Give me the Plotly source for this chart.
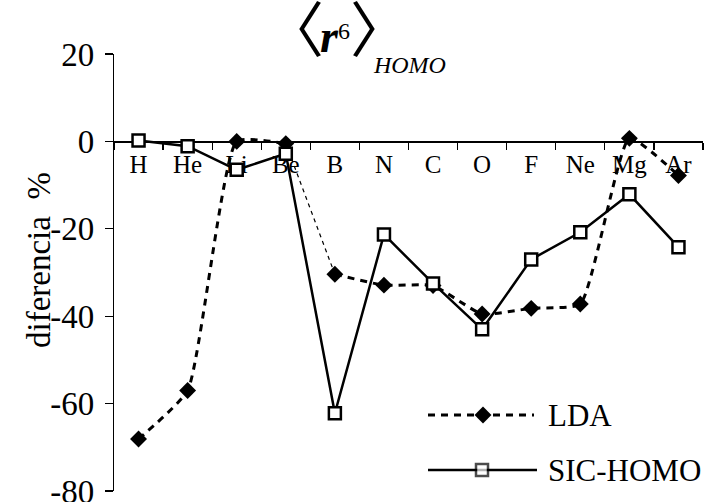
import plotly.graph_objects as go

categories = ["H", "He", "Li", "Be", "B", "N", "C", "O", "F", "Ne", "Mg", "Ar"]
lda = [-68.1, -57.0, 0.0, -0.5, -30.4, -32.9, -33.0, -39.5, -38.2, -37.2, 0.7, -7.8]
sic_homo = [0.2, -1.1, -6.5, -2.8, -62.2, -21.3, -32.5, -43.0, -27.0, -20.8, -12.1, -24.2]
y_ticks = [20, 0, -20, -40, -60, -80]
y_tick_text = ["20", "0", "-20", "-40", "-60", "-80"]

W, H = 712, 502
L, R, T, B = 114, 703, 54, 491
SERIF = "Liberation Serif, Times New Roman, serif"
CJK = "Noto Sans CJK JP"


def px(x):
    return (x - L) / (R - L)


def py(y):
    return (B - y) / (B - T)


fig = go.Figure()

LDA_THICK = dict(color="black", width=3, dash="7px,6px", shape="spline", smoothing=0.45)
# LDA line: H..Be and B..Ar thick dashed, Be..B thin dashed (as in the reference)
fig.add_trace(go.Scatter(x=categories[0:4], y=lda[0:4], mode="lines", line=LDA_THICK,
                         showlegend=False, hoverinfo="skip"))
fig.add_trace(go.Scatter(x=categories[3:5], y=lda[3:5], mode="lines",
                         line=dict(color="black", width=1.2, dash="4px,4px"),
                         showlegend=False, hoverinfo="skip"))
fig.add_trace(go.Scatter(x=categories[4:], y=lda[4:], mode="lines", line=LDA_THICK,
                         showlegend=False, hoverinfo="skip"))
fig.add_trace(go.Scatter(
    x=categories, y=lda, name="LDA", mode="markers",
    marker=dict(symbol="diamond", size=13, color="black"),
    showlegend=False,
))
fig.add_trace(go.Scatter(
    x=categories, y=sic_homo, name="SIC-HOMO", mode="lines+markers",
    line=dict(color="black", width=2.5),
    marker=dict(symbol="square", size=12, color="white", line=dict(color="black", width=2.5)),
    showlegend=False,
))

# manual legend keys on an overlay pixel-space axis
fig.add_trace(go.Scatter(
    x=[428, 483, 534], y=[415, 415, 415], mode="lines", xaxis="x2", yaxis="y2",
    line=dict(color="black", width=3, dash="7px,6px"), showlegend=False, hoverinfo="skip"))
fig.add_trace(go.Scatter(
    x=[483], y=[415], mode="markers", xaxis="x2", yaxis="y2",
    marker=dict(symbol="diamond", size=13, color="black"), showlegend=False, hoverinfo="skip"))
fig.add_trace(go.Scatter(
    x=[428, 482, 537], y=[470, 470, 470], mode="lines+markers", xaxis="x2", yaxis="y2",
    line=dict(color="black", width=2.5),
    marker=dict(symbol="square", size=[0, 12, 0], color="white", line=dict(color="black", width=2.5)),
    showlegend=False, hoverinfo="skip"))

ann = []
ann.append(dict(text="LDA", x=px(546), y=py(415), xanchor="left", yanchor="middle"))
ann.append(dict(text="SIC-HOMO", x=px(546), y=py(470), xanchor="left", yanchor="middle"))
for a in ann:
    a.update(xref="paper", yref="paper", showarrow=False,
             font=dict(family=SERIF, size=31, color="black"))

title_text = (
    f'<span style="font-family:{CJK};font-size:60px;letter-spacing:-4px">\u3008</span>'
    '<b><i>r</i></b>'
    '<span style="font-size:31px"><sup><span style="font-size:24px">6</span></sup></span>'
    f'<span style="font-family:{CJK};font-size:60px;letter-spacing:-36px">\u3009</span>'
    '<span style="font-size:100px"><sub><span style="font-size:24px"><i>HOMO</i></span></sub></span>'
)
ann.append(dict(text=title_text, x=px(262), y=py(80), xref="paper", yref="paper",
                showarrow=False, xanchor="left", yanchor="bottom",
                font=dict(family=SERIF, size=46, color="black")))

ann.append(dict(text="diferencia\u00a0\u00a0%", x=px(39), y=py(260), xref="paper", yref="paper",
                showarrow=False, textangle=-90, xanchor="center", yanchor="middle",
                font=dict(family=SERIF, size=33, color="black")))

fig.update_layout(
    width=W, height=H,
    margin=dict(l=L, r=W - R, t=T, b=H - B, autoexpand=False),
    paper_bgcolor="white", plot_bgcolor="white",
    font=dict(family=SERIF, color="black"),
    annotations=ann,
    xaxis=dict(
        type="category", categoryorder="array", categoryarray=categories,
        range=[-0.5, len(categories) - 0.5],
        anchor="free", position=0.8, automargin=False,
        showline=True, linecolor="black", linewidth=1.2,
        ticks="outside", ticklen=7, tickcolor="black", tickwidth=1.2,
        tickson="boundaries", showgrid=False, zeroline=False,
        tickfont=dict(family=SERIF, size=25, color="black"),
        layer="below traces", fixedrange=True,
    ),
    yaxis=dict(
        range=[-80, 20], tickvals=y_ticks, ticktext=y_tick_text, automargin=False,
        showline=True, linecolor="black", linewidth=1.2,
        ticks="outside", ticklen=8, tickcolor="black", tickwidth=1.2,
        ticklabelstandoff=4, ticklabeloverflow="allow",
        showgrid=False, zeroline=False,
        tickfont=dict(family=SERIF, size=33, color="black"),
        layer="below traces", fixedrange=True,
    ),
    xaxis2=dict(overlaying="x", range=[L, R], visible=False, fixedrange=True),
    yaxis2=dict(overlaying="y", range=[B, T], visible=False, fixedrange=True),
)

fig.write_html("out.html", config={"displayModeBar": False, "staticPlot": True},
               post_script="document.body.style.margin='0';document.body.style.padding='0';")
